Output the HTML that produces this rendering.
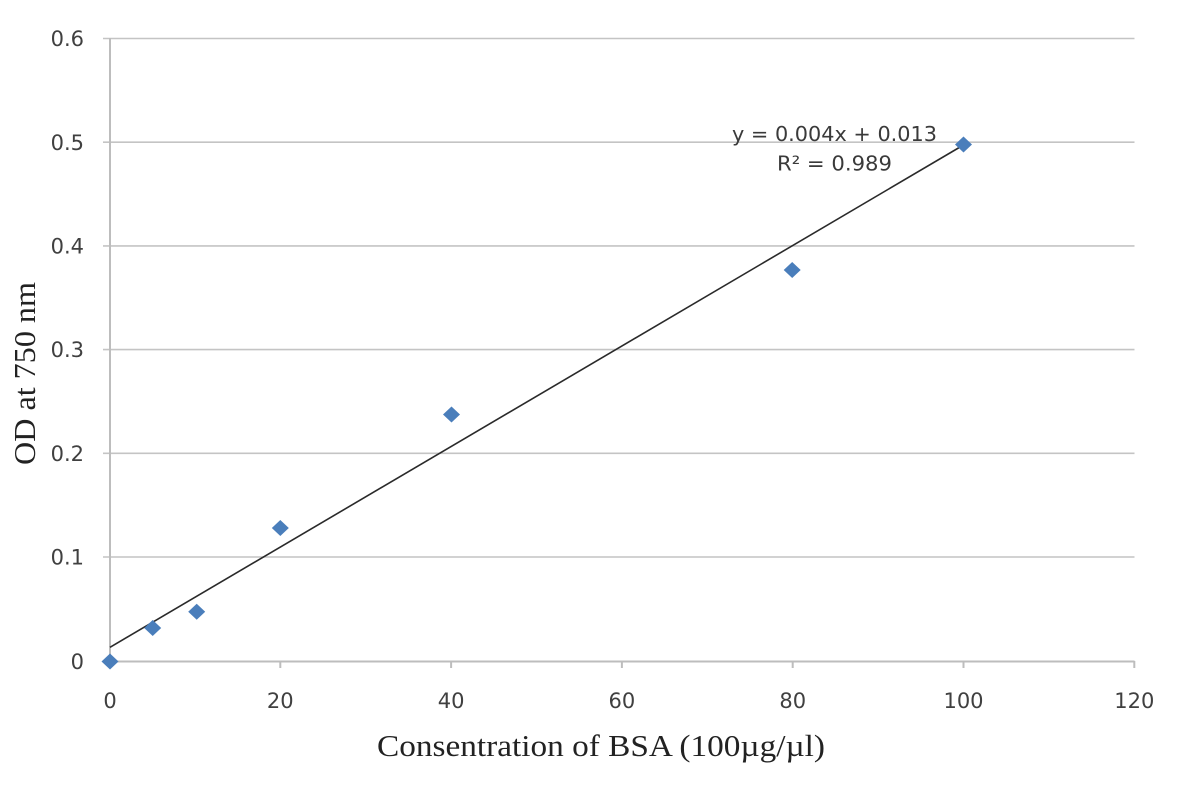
<!DOCTYPE html>
<html>
<head>
<meta charset="utf-8">
<style>
  html, body { margin: 0; padding: 0; background: #ffffff; }
  svg { display: block; }
</style>
</head>
<body>
<svg width="1180" height="800" viewBox="0 0 1180 800" xmlns="http://www.w3.org/2000/svg">
  <rect x="0" y="0" width="1180" height="800" fill="#ffffff"/>
  <!-- horizontal gridlines -->
  <g stroke="#c4c4c4" stroke-width="1.6">
    <line x1="103" y1="38.5" x2="1134.5" y2="38.5"/>
    <line x1="103" y1="142.2" x2="1134.5" y2="142.2"/>
    <line x1="103" y1="245.9" x2="1134.5" y2="245.9"/>
    <line x1="103" y1="349.6" x2="1134.5" y2="349.6"/>
    <line x1="103" y1="453.3" x2="1134.5" y2="453.3"/>
    <line x1="103" y1="557.0" x2="1134.5" y2="557.0"/>
  </g>
  <!-- axes -->
  <g stroke="#bdbdbd" stroke-width="2">
    <line x1="110" y1="38" x2="110" y2="662"/>
    <line x1="103" y1="661.5" x2="1134.5" y2="661.5"/>
    <line x1="280.3" y1="661" x2="280.3" y2="668"/>
    <line x1="451.1" y1="661" x2="451.1" y2="668"/>
    <line x1="621.9" y1="661" x2="621.9" y2="668"/>
    <line x1="792.7" y1="661" x2="792.7" y2="668"/>
    <line x1="963.5" y1="661" x2="963.5" y2="668"/>
    <line x1="1134.3" y1="661" x2="1134.3" y2="668"/>
  </g>
  <!-- y tick labels -->
  <g font-family="'DejaVu Sans', 'Liberation Sans', sans-serif" font-size="21" fill="#404040" text-anchor="end">
    <text x="84" y="46">0.6</text>
    <text x="84" y="149.8">0.5</text>
    <text x="84" y="253.5">0.4</text>
    <text x="84" y="357.2">0.3</text>
    <text x="84" y="460.9">0.2</text>
    <text x="84" y="564.6">0.1</text>
    <text x="84" y="669">0</text>
  </g>
  <!-- x tick labels -->
  <g font-family="'DejaVu Sans', 'Liberation Sans', sans-serif" font-size="21" fill="#404040" text-anchor="middle">
    <text x="110" y="707.8">0</text>
    <text x="280.3" y="707.8">20</text>
    <text x="451.1" y="707.8">40</text>
    <text x="621.9" y="707.8">60</text>
    <text x="792.7" y="707.8">80</text>
    <text x="963.5" y="707.8">100</text>
    <text x="1134.3" y="707.8">120</text>
  </g>
  <!-- trendline -->
  <line x1="110" y1="647.3" x2="963.5" y2="145" stroke="#2a2a2a" stroke-width="1.6"/>
  <!-- data points -->
  <g fill="#4a7ebb">
    <polygon points="110,653.5 118.5,661.5 110,669.5 101.5,661.5"/>
    <polygon points="152.7,620 161.2,628 152.7,636 144.2,628"/>
    <polygon points="196.7,603.7 205.2,611.7 196.7,619.7 188.2,611.7"/>
    <polygon points="280.3,520 288.8,528 280.3,536 271.8,528"/>
    <polygon points="451.5,406.5 460,414.5 451.5,422.5 443,414.5"/>
    <polygon points="792.2,262 800.7,270 792.2,278 783.7,270"/>
    <polygon points="963.5,136.5 972,144.5 963.5,152.5 955,144.5"/>
  </g>
  <!-- equation -->
  <g font-family="'DejaVu Sans', 'Liberation Sans', sans-serif" font-size="20" fill="#3a3a3a">
    <text x="732" y="141" textLength="205" lengthAdjust="spacingAndGlyphs">y = 0.004x + 0.013</text>
    <text x="777" y="170.5" textLength="115" lengthAdjust="spacingAndGlyphs">R² = 0.989</text>
  </g>
  <!-- axis titles -->
  <text x="601" y="756" font-family="'Liberation Serif', serif" font-size="31" fill="#222" text-anchor="middle" textLength="448" lengthAdjust="spacingAndGlyphs">Consentration of BSA (100µg/µl)</text>
  <text transform="translate(35,373.5) rotate(-90)" x="0" y="0" font-family="'Liberation Serif', serif" font-size="31" fill="#222" text-anchor="middle" textLength="183" lengthAdjust="spacingAndGlyphs">OD at 750 nm</text>
</svg>
</body>
</html>
